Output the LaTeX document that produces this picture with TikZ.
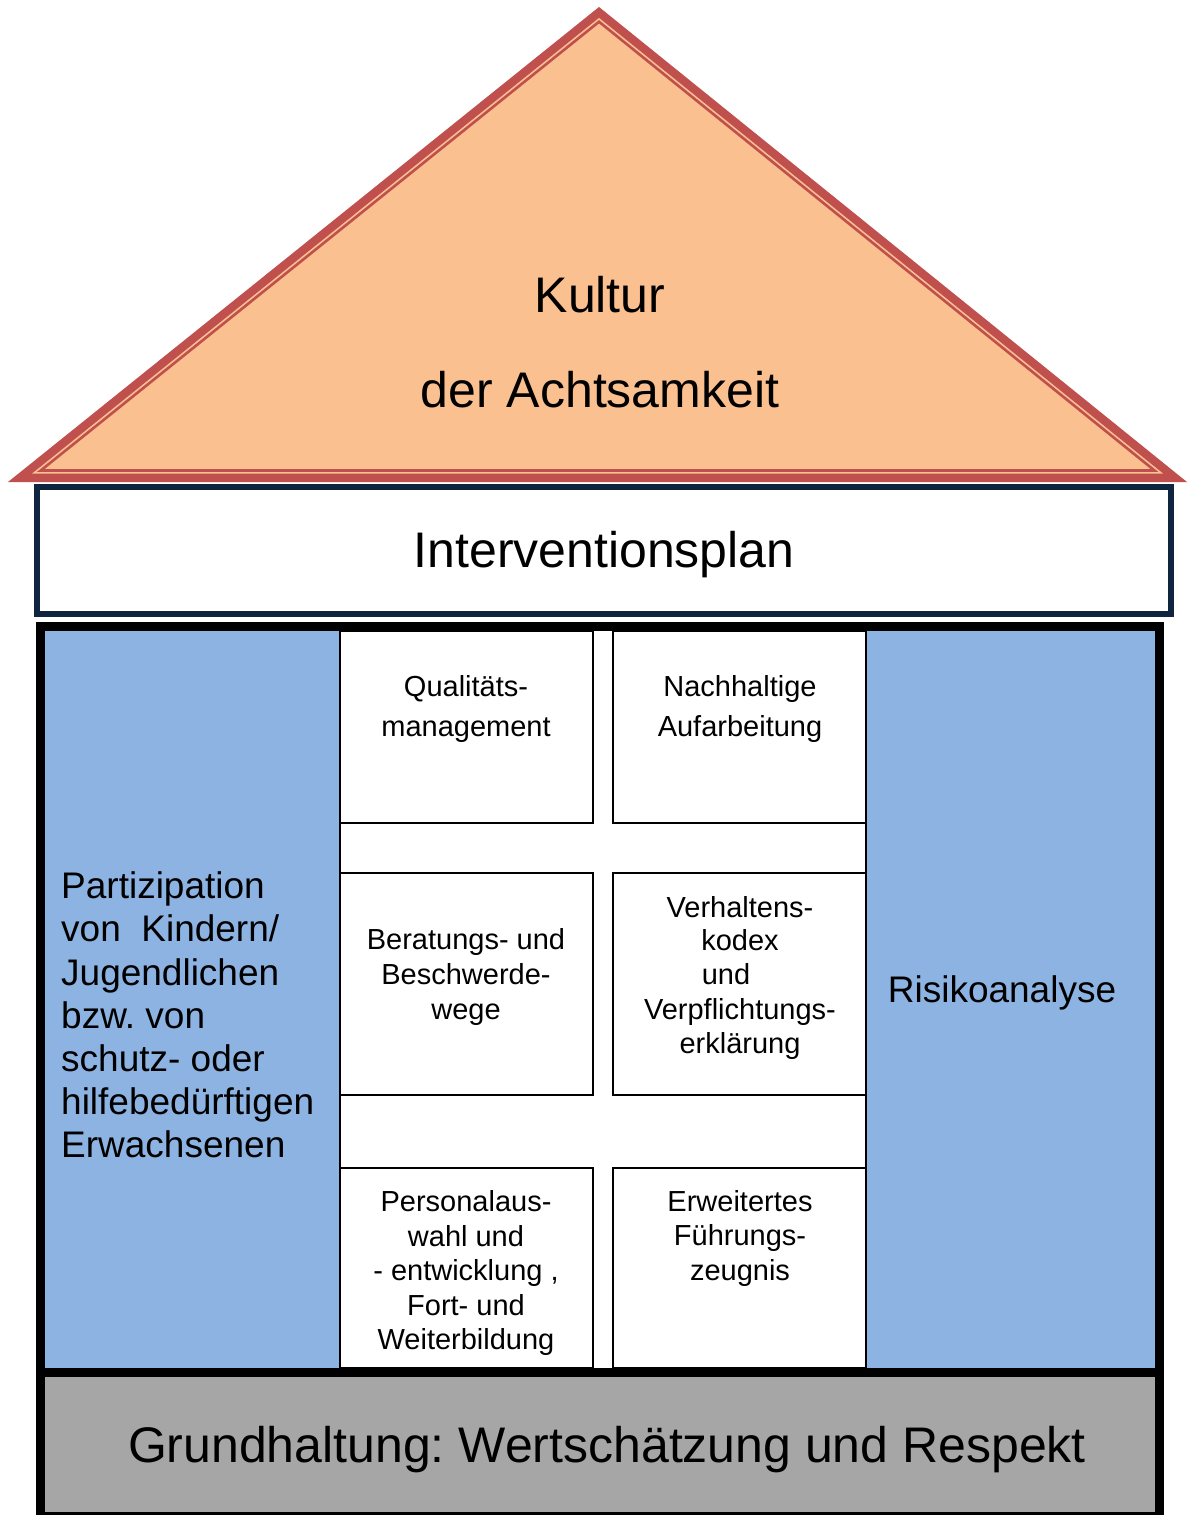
\documentclass[tikz,border=0pt]{standalone}
\usepackage{fontspec}
\setmainfont{Liberation Sans}
\frenchspacing
\definecolor{roofpeach}{HTML}{FAC090}
\definecolor{roofred}{HTML}{C0504D}
\definecolor{navy}{HTML}{0F243E}
\definecolor{pillarblue}{HTML}{8DB3E2}
\definecolor{basegray}{HTML}{A6A6A6}
\begin{document}
\begin{tikzpicture}[x=1pt,y=-1pt,
  bigtext/.style={inner sep=0pt, font=\fontsize{50}{60}\selectfont},
  coltext/.style={inner sep=0pt, font=\fontsize{37}{43.2}\selectfont},
  boxtext/.style={inner sep=0pt, align=center, font=\fontsize{29}{34.5}\selectfont},
  cell/.style={draw=black, line width=2pt, fill=white}]
\useasboundingbox (0,0) rectangle (1187,1515);

% roof
\fill[roofred] (599,7) -- (8,482) -- (1187,482) -- cycle;
\fill[roofpeach, scale around={0.9591:(599.5,274)}] (599,7) -- (8,482) -- (1187,482) -- cycle;
\draw[roofred, line width=2.6pt, scale around={0.9447:(599.5,274)}] (599,7) -- (8,482) -- (1187,482) -- cycle;
\node[bigtext] (kultur) at (600,295) {Kultur};
\node[bigtext] (achtsam) at (600,390) {der Achtsamkeit};

% Interventionsplan
\draw[navy, line width=6pt, fill=white] (37,487) rectangle (1171,614);
\node[bigtext] (plan) at (604,555) {Interventionsplan};

% main frame
\fill[black] (36,622) rectangle (1164,1515);
\fill[pillarblue] (45,631) rectangle (340,1368);
\fill[pillarblue] (866,631) rectangle (1155,1368);
\fill[white] (340,631) rectangle (866,1368);
\draw[black, line width=2pt] (340,631) -- (340,1368);
\draw[black, line width=2pt] (866,631) -- (866,1368);
\fill[basegray] (45,1377) rectangle (1155,1512);

% cells
\draw[cell] (340,631) rectangle (593,823);
\draw[cell] (613,631) rectangle (866,823);
\draw[cell] (340,873) rectangle (593,1095);
\draw[cell] (613,873) rectangle (866,1095);
\draw[cell] (340,1168) rectangle (593,1368);
\draw[cell] (613,1168) rectangle (866,1368);

\node[boxtext, font=\fontsize{29}{40}\selectfont] (qm) at (466,709) {Qualitäts-\\management};
\node[boxtext, font=\fontsize{29}{40}\selectfont] (na) at (740,709) {Nachhaltige\\Aufarbeitung};
\node[boxtext, font=\fontsize{29}{35}\selectfont] (bb) at (466,977) {Beratungs- und\\Beschwerde-\\wege};
\node[boxtext] (vk1) at (740,907) {Verhaltens-};
\node[boxtext] (vk2) at (740,940) {kodex};
\node[boxtext] (vk3) at (726,974) {und};
\node[boxtext] (vk4) at (740,1012) {Verpflichtungs-};
\node[boxtext] (vk5) at (740,1046) {erklärung};
\node[boxtext] (pa) at (466,1273) {Personalaus-\\wahl und\\- entwicklung ,\\Fort- und\\Weiterbildung};
\node[boxtext] (ef) at (740,1238) {Erweitertes\\Führungs-\\zeugnis};

% pillars
\node[coltext, align=left, anchor=west] (part) at (61,1015) {Partizipation\\von\ \ Kindern/\\Jugendlichen\\bzw. von\\schutz- oder\\hilfebedürftigen\\Erwachsenen};
\node[coltext] (risk) at (1002,993) {Risikoanalyse};

% base
\node[bigtext] (grund) at (607,1450) {Grundhaltung: Wertschätzung und Respekt};
\end{tikzpicture}
\end{document}
